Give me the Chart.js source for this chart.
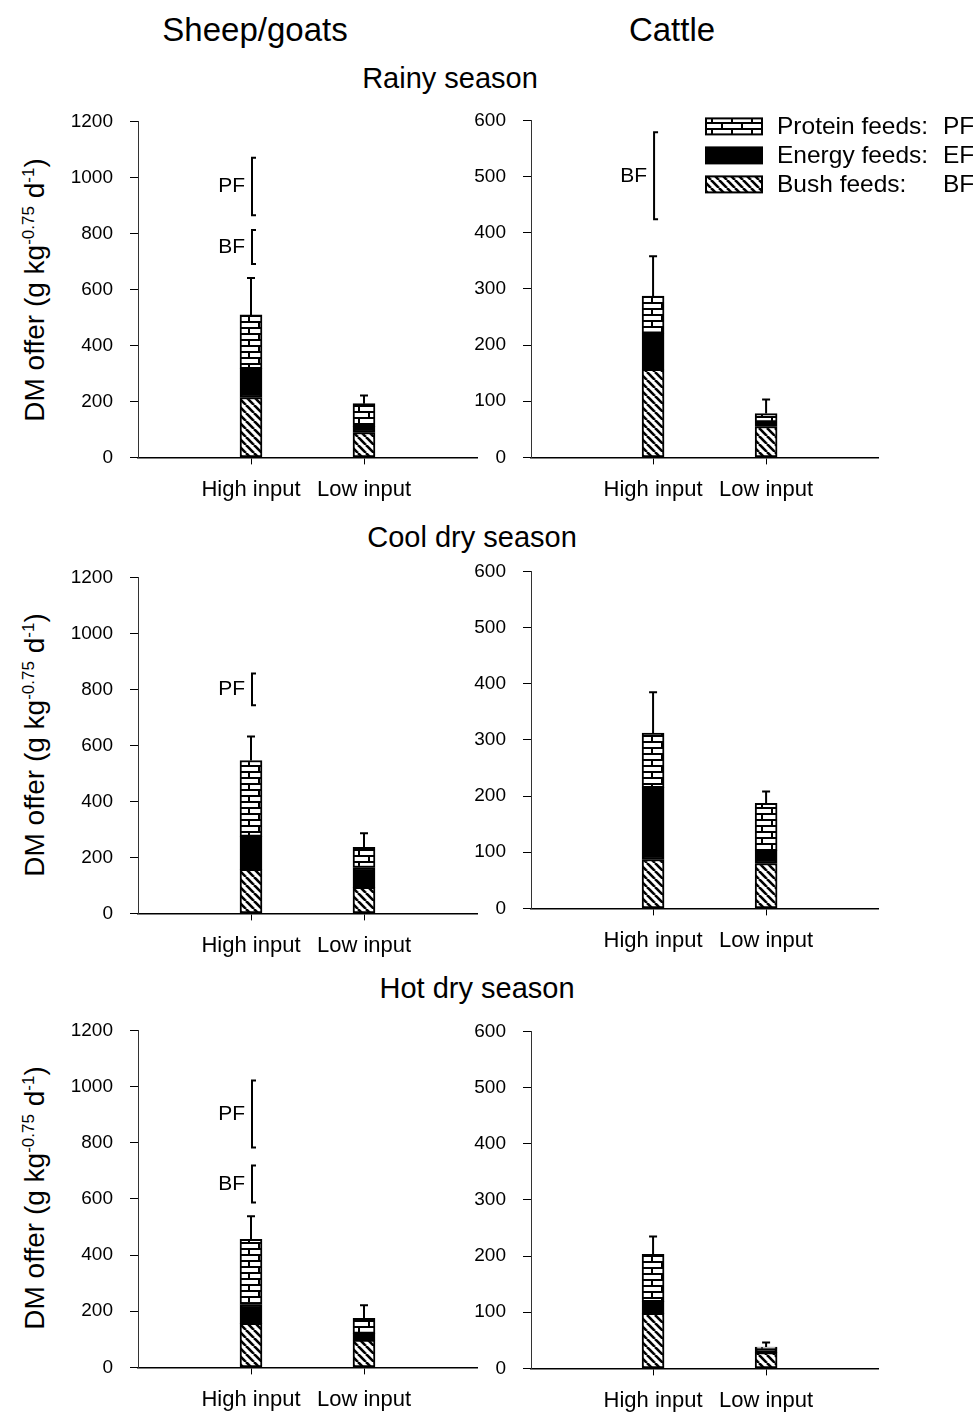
<!DOCTYPE html>
<html>
<head>
<meta charset="utf-8">
<title>DM offer by season</title>
<script src="https://cdn.jsdelivr.net/npm/chart.js@4.4.0/dist/chart.umd.min.js"></script>
<style>
  body { margin: 0; background: #fff; width: 973px; height: 1412px; position: relative; overflow: hidden;
         font-family: "Liberation Sans", Arial, sans-serif; color: #000; }
  .box { position: absolute; }
  .t { position: absolute; transform: translate(-50%, -50%); white-space: nowrap; }
  .yt { position: absolute; transform: translate(-50%, -50%) rotate(-90deg); white-space: nowrap; font-size: 28px; }
  .yt sup { font-size: 17px; }
</style>
</head>
<body>
<div class="t" style="left:255px;top:30px;font-size:33px">Sheep/goats</div>
<div class="t" style="left:672px;top:30px;font-size:33px">Cattle</div>
<div class="t" style="left:450px;top:78px;font-size:29px">Rainy season</div>
<div class="t" style="left:472px;top:537px;font-size:29px">Cool dry season</div>
<div class="t" style="left:477px;top:988px;font-size:29px">Hot dry season</div>
<div class="yt" style="left:35px;top:290px">DM offer (g kg<sup>-0.75</sup> d<sup>-1</sup>)</div>
<div class="yt" style="left:35px;top:745px">DM offer (g kg<sup>-0.75</sup> d<sup>-1</sup>)</div>
<div class="yt" style="left:35px;top:1198px">DM offer (g kg<sup>-0.75</sup> d<sup>-1</sup>)</div>

<script>
// categories and bar positions on the x axis
const categories = ['High input', 'Low input'];
const barPositions = [1, 2];

// Bush feeds (BF), energy feeds (EF), protein feeds (PF) - stacked, g/kg^0.75/d
const bfSheepRainy = [214, 89];
const efSheepRainy = [103, 21];
const pfSheepRainy = [192, 82];
const seSheepRainy = [132, 29];

const bfCattleRainy = [157, 55];
const efCattleRainy = [64, 8];
const pfCattleRainy = [66, 15];
const seCattleRainy = [71, 25];

const bfSheepCool = [157, 93];
const efSheepCool = [118, 71];
const pfSheepCool = [271, 72];
const seSheepCool = [86, 50];

const bfCattleCool = [87, 80];
const efCattleCool = [128, 23];
const pfCattleCool = [97, 84];
const seCattleCool = [73, 21];

const bfSheepHot = [157, 97];
const efSheepHot = [67, 24];
const pfSheepHot = [232, 54];
const seSheepHot = [82, 46];

const bfCattleHot = [98, 28];
const efCattleHot = [21, 7];
const pfCattleHot = [84, 3];
const seCattleHot = [32, 8];

// LSD bars [label, low, high]
const lsdSheepRainy = [['PF', 865, 1070], ['BF', 691, 812]];
const lsdCattleRainy = [['BF', 424, 579]];
const lsdSheepCool = [['PF', 743, 857]];
const lsdSheepHot = [['PF', 783, 1022], ['BF', 587, 719]];

Chart.defaults.font.family = '"Liberation Sans", Arial, sans-serif';
Chart.defaults.color = '#000';

function makeBrick() {
  const c = document.createElement('canvas');
  c.width = 20; c.height = 12;
  const g = c.getContext('2d');
  g.fillStyle = '#fff'; g.fillRect(0, 0, 20, 12);
  g.fillStyle = '#000';
  g.fillRect(0, 0, 20, 2); g.fillRect(0, 6, 20, 2);
  g.fillRect(0, 0, 2, 6); g.fillRect(10, 6, 2, 6);
  return g.createPattern(c, 'repeat');
}
function makeHatch() {
  const s = 8;
  const c = document.createElement('canvas');
  c.width = s; c.height = s;
  const g = c.getContext('2d');
  g.fillStyle = '#fff'; g.fillRect(0, 0, s, s);
  g.strokeStyle = '#000'; g.lineWidth = 2.6;
  [-s, 0, s].forEach(o => { g.beginPath(); g.moveTo(o, 0); g.lineTo(o + s, s); g.stroke(); });
  return g.createPattern(c, 'repeat');
}
const brick = makeBrick();
const hatch = makeHatch();

// chart area positions on the page
const panels = [
  { bf: bfSheepRainy, ef: efSheepRainy, pf: pfSheepRainy, se: seSheepRainy, lsd: lsdSheepRainy,
    ymax: 1200, step: 200, xmin: 0, xmax: 3, area: [138, 121, 477, 457], right: 10 },
  { bf: bfCattleRainy, ef: efCattleRainy, pf: pfCattleRainy, se: seCattleRainy, lsd: lsdCattleRainy,
    ymax: 600, step: 100, xmin: -0.08, xmax: 2.99, area: [531, 120, 878, 457], right: 95, legend: true },
  { bf: bfSheepCool, ef: efSheepCool, pf: pfSheepCool, se: seSheepCool, lsd: lsdSheepCool,
    ymax: 1200, step: 200, xmin: 0, xmax: 3, area: [138, 577, 477, 913], right: 10 },
  { bf: bfCattleCool, ef: efCattleCool, pf: pfCattleCool, se: seCattleCool, lsd: [],
    ymax: 600, step: 100, xmin: -0.08, xmax: 2.99, area: [531, 571, 878, 908], right: 10 },
  { bf: bfSheepHot, ef: efSheepHot, pf: pfSheepHot, se: seSheepHot, lsd: lsdSheepHot,
    ymax: 1200, step: 200, xmin: 0, xmax: 3, area: [138, 1030, 477, 1367], right: 10 },
  { bf: bfCattleHot, ef: efCattleHot, pf: pfCattleHot, se: seCattleHot, lsd: [],
    ymax: 600, step: 100, xmin: -0.08, xmax: 2.99, area: [531, 1031, 878, 1368], right: 10 }
];

const Y_W = 100, X_H = 50, BOX_TOP = 20, PAD_TOP = 13;

// error bars, LSD bars and legend
const extras = {
  id: 'extras',
  afterDatasetsDraw(chart, args, opts) {
    const p = opts.panel;
    const ctx = chart.ctx;
    const x = chart.scales.x, y = chart.scales.y;
    ctx.save();
    ctx.strokeStyle = '#000';
    ctx.lineWidth = 2;
    barPositions.forEach((xv, i) => {
      const tot = p.bf[i] + p.ef[i] + p.pf[i];
      const px = x.getPixelForValue(xv);
      const y0 = y.getPixelForValue(tot), y1 = y.getPixelForValue(tot + p.se[i]);
      ctx.beginPath();
      ctx.moveTo(px, y0); ctx.lineTo(px, y1);
      ctx.moveTo(px - 4, y1); ctx.lineTo(px + 4, y1);
      ctx.stroke();
    });
    ctx.font = '21px "Liberation Sans", Arial, sans-serif';
    ctx.fillStyle = '#000';
    ctx.textAlign = 'right';
    ctx.textBaseline = 'middle';
    p.lsd.forEach(l => {
      const px = x.getPixelForValue(barPositions[0]) + 1;
      const ya = y.getPixelForValue(l[1]), yb = y.getPixelForValue(l[2]);
      ctx.beginPath();
      ctx.moveTo(px + 4, ya); ctx.lineTo(px, ya); ctx.lineTo(px, yb); ctx.lineTo(px + 4, yb);
      ctx.stroke();
      ctx.fillText(l[0], px - 7, (ya + yb) / 2);
    });
    if (p.legend) {
      const items = [[brick, 'Protein feeds:', 'PF'], ['#000', 'Energy feeds:', 'EF'], [hatch, 'Bush feeds:', 'BF']];
      const left = chart.chartArea.left;
      const top = chart.chartArea.top;
      ctx.font = '24.5px "Liberation Sans", Arial, sans-serif';
      ctx.textAlign = 'left';
      items.forEach((it, k) => {
        const by = top - 2 + k * 29;
        ctx.fillStyle = it[0];
        ctx.fillRect(left + 175, by, 56, 16);
        ctx.lineWidth = 2;
        ctx.strokeRect(left + 175, by, 56, 16);
        ctx.fillStyle = '#000';
        ctx.fillText(it[1], left + 246, by + 9);
        ctx.fillText(it[2], left + 412, by + 9);
      });
    }
    ctx.restore();
  }
};

panels.forEach((p, n) => {
  const [l, t, r, b] = p.area;
  const box = document.createElement('div');
  box.className = 'box';
  box.style.left = (l - Y_W) + 'px';
  box.style.top = (t - BOX_TOP) + 'px';
  box.style.width = (r - l + Y_W + p.right) + 'px';
  box.style.height = (b - t + BOX_TOP + X_H) + 'px';
  const cv = document.createElement('canvas');
  box.appendChild(cv);
  document.body.appendChild(box);

  const mk = (arr) => categories.map((c, i) => ({ x: barPositions[i], y: arr[i] }));
  const common = { barThickness: 22, borderWidth: 2, borderColor: '#000', borderSkipped: false };

  const chart = new Chart(cv.getContext('2d'), {
    type: 'bar',
    data: {
      datasets: [
        Object.assign({ label: 'Bush feeds', data: mk(p.bf), backgroundColor: hatch }, common),
        Object.assign({ label: 'Energy feeds', data: mk(p.ef), backgroundColor: '#000' }, common),
        Object.assign({ label: 'Protein feeds', data: mk(p.pf), backgroundColor: brick }, common)
      ]
    },
    options: {
      responsive: true,
      maintainAspectRatio: false,
      animation: false,
      layout: { padding: { left: 0, top: PAD_TOP, right: p.right, bottom: 0 } },
      plugins: { legend: { display: false }, tooltip: { enabled: false }, extras: { panel: p } },
      scales: {
        x: {
          type: 'linear', stacked: true, min: p.xmin, max: p.xmax, offset: false,
          afterFit: a => { a.height = X_H; },
          afterBuildTicks: a => { a.ticks = barPositions.map(v => ({ value: v })); },
          ticks: { callback: (v, i) => categories[i], font: { size: 22 }, padding: 12,
                   maxRotation: 0, autoSkip: false, color: '#000' },
          grid: { offset: false, drawOnChartArea: false, tickLength: 7, tickColor: '#000', tickWidth: 1 },
          border: { color: '#000', width: 1.5 }
        },
        y: {
          stacked: true, min: 0, max: p.ymax,
          afterFit: a => { a.width = Y_W; },
          ticks: { stepSize: p.step, callback: v => String(v), font: { size: 19 }, padding: 17, color: '#000' },
          grid: { drawOnChartArea: false, tickLength: 8, tickColor: '#000', tickWidth: 1 },
          border: { color: '#333', width: 1 }
        }
      }
    },
    plugins: [extras]
  });

  // move the canvas so that the chart area lands where the panel sits on the page
  for (let k = 0; k < 2; k++) {
    const ca = chart.chartArea;
    const h = chart.height;
    box.style.top = (t - ca.top) + 'px';
    box.style.left = (l - ca.left) + 'px';
    box.style.height = (b - t + ca.top + (h - ca.bottom)) + 'px';
    chart.resize();
  }
});
</script>
</body>
</html>
